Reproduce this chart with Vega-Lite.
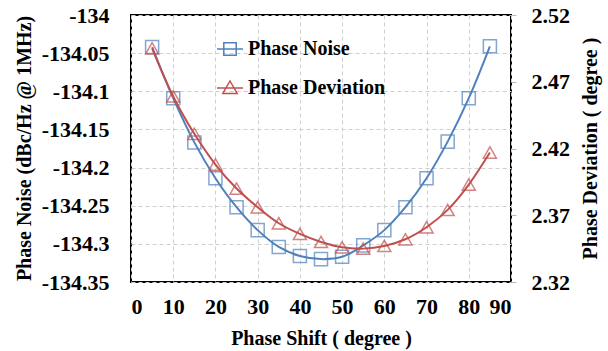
{
  "$schema": "https://vega.github.io/schema/vega-lite/v6.json",
  "width": 380,
  "height": 267,
  "autosize": "none",
  "padding": {"left": 131, "top": 15, "right": 97, "bottom": 69},
  "background": "white",
  "config": {
    "font": "Liberation Serif",
    "locale": {
      "number": {"decimal": ".", "thousands": ",", "grouping": [3], "currency": ["$", ""], "minus": "-"}
    },
    "view": {"stroke": "black", "strokeWidth": 2},
    "axis": {
      "labelFont": "Liberation Serif",
      "labelFontSize": 22,
      "labelFontWeight": "bold",
      "labelColor": "black",
      "titleFont": "Liberation Serif",
      "titleFontSize": 20,
      "titleFontWeight": "bold",
      "titleColor": "black",
      "domain": false,
      "gridColor": "#cfcfcf",
      "gridDash": [4, 3],
      "gridWidth": 1
    }
  },
  "data": {
    "values": [
      {"shift": 5, "noise": -134.042, "deviation": 2.495},
      {"shift": 10, "noise": -134.109, "deviation": 2.459},
      {"shift": 15, "noise": -134.167, "deviation": 2.431},
      {"shift": 20, "noise": -134.214, "deviation": 2.408},
      {"shift": 25, "noise": -134.252, "deviation": 2.390},
      {"shift": 30, "noise": -134.282, "deviation": 2.376},
      {"shift": 35, "noise": -134.304, "deviation": 2.364},
      {"shift": 40, "noise": -134.316, "deviation": 2.356},
      {"shift": 45, "noise": -134.320, "deviation": 2.350},
      {"shift": 50, "noise": -134.317, "deviation": 2.346},
      {"shift": 55, "noise": -134.302, "deviation": 2.345},
      {"shift": 60, "noise": -134.282, "deviation": 2.347},
      {"shift": 65, "noise": -134.252, "deviation": 2.352},
      {"shift": 70, "noise": -134.214, "deviation": 2.361},
      {"shift": 75, "noise": -134.166, "deviation": 2.374},
      {"shift": 80, "noise": -134.109, "deviation": 2.393},
      {"shift": 85, "noise": -134.041, "deviation": 2.417}
    ]
  },
  "encoding": {
    "x": {
      "field": "shift",
      "type": "quantitative",
      "title": "Phase Shift ( degree )",
      "scale": {"domain": [0, 90], "nice": false},
      "axis": {
        "values": [0, 10, 20, 30, 40, 50, 60, 70, 80, 90],
        "format": "d",
        "ticks": false,
        "labelPadding": 14,
        "titleX": 190,
        "titleY": 56,
        "titleBaseline": "middle",
        "titleAlign": "center",
        "grid": true
      }
    }
  },
  "layer": [
    {
      "encoding": {
        "y": {
          "field": "noise",
          "type": "quantitative",
          "title": "Phase Noise (dBc/Hz @ 1MHz)",
          "scale": {"domain": [-134.35, -134], "nice": false, "zero": false},
          "axis": {
            "orient": "left",
            "values": [-134.35, -134.3, -134.25, -134.2, -134.15, -134.1, -134.05, -134],
            "format": ".2~f",
            "ticks": false,
            "labelPadding": 22,
            "titleX": -107,
            "titleY": 133,
            "titleAngle": 270,
            "titleBaseline": "middle",
            "titleAlign": "center",
            "grid": true
          }
        },
        "color": {
          "datum": "Phase Noise",
          "type": "nominal",
          "scale": {"domain": ["Phase Noise", "Phase Deviation"], "range": ["#4f81bd", "#c0504d"]},
          "legend": {
            "orient": "none",
            "legendX": 88,
            "legendY": 23,
            "title": null,
            "labelFont": "Liberation Serif",
            "labelFontSize": 20,
            "labelFontWeight": "bold",
            "labelColor": "black",
            "labelOffset": 7,
            "rowPadding": 18,
            "symbolSize": 400,
            "symbolStrokeWidth": 1.5,
            "symbolFillColor": "transparent",
            "encode": {
              "symbols": {
                "update": {
                  "shape": {"signal": "datum.value === 'Phase Noise' ? 'M-1.3,0H1.3M-0.62,-0.62H0.62V0.62H-0.62Z' : 'M-1.3,0H1.3M0,-0.7L0.72,0.55H-0.72Z'"},
                  "fill": {"value": "transparent"}
                }
              }
            }
          }
        }
      },
      "layer": [
        {"mark": {"type": "line", "interpolate": "catmull-rom", "strokeWidth": 2}},
        {"mark": {"type": "point", "shape": "square", "filled": false, "size": 170, "strokeWidth": 1.5}}
      ]
    },
    {
      "encoding": {
        "y": {
          "field": "deviation",
          "type": "quantitative",
          "title": "Phase Deviation ( degree )",
          "scale": {"domain": [2.32, 2.52], "nice": false, "zero": false},
          "axis": {
            "orient": "right",
            "values": [2.32, 2.37, 2.42, 2.47, 2.52],
            "format": ".2f",
            "ticks": true,
            "tickSize": 5,
            "tickColor": "#bbbbbb",
            "labelPadding": 15,
            "titleX": 79,
            "titleY": 133,
            "titleAngle": 270,
            "titleBaseline": "middle",
            "titleAlign": "center",
            "grid": false
          }
        },
        "color": {"datum": "Phase Deviation", "type": "nominal"}
      },
      "layer": [
        {"mark": {"type": "line", "interpolate": "catmull-rom", "strokeWidth": 2}},
        {"mark": {"type": "point", "shape": "triangle-up", "filled": false, "size": 170, "strokeWidth": 1.5}}
      ]
    }
  ],
  "resolve": {"scale": {"y": "independent"}}
}
